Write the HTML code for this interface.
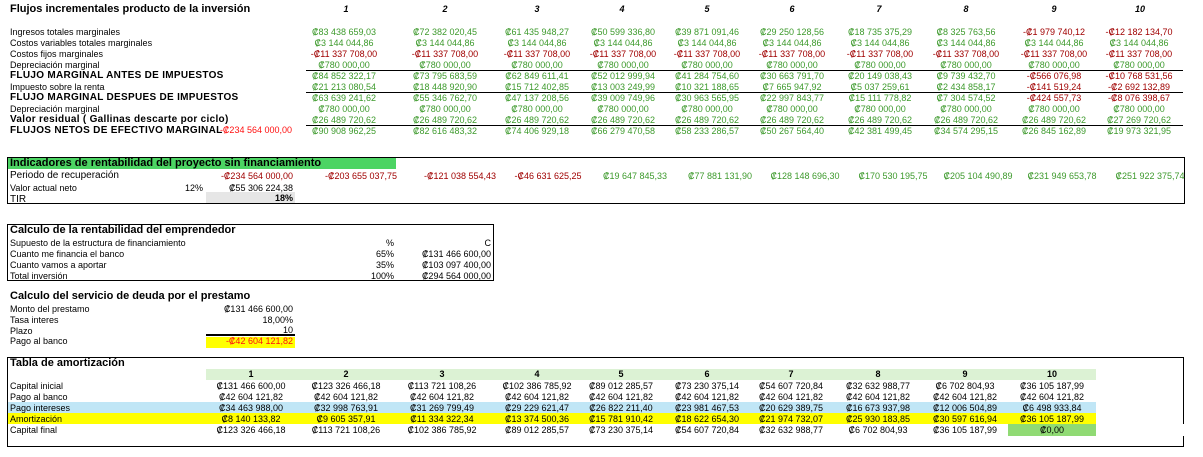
<!DOCTYPE html>
<html><head><meta charset="utf-8"><style>
body{margin:0;width:1203px;height:457px;background:#fff;position:relative;overflow:hidden;font-family:"Liberation Sans","DejaVu Sans",sans-serif;font-size:9px;color:#000}
div{position:absolute;white-space:nowrap;line-height:11px}
.c{width:100px;text-align:center}
.r{text-align:right}
.g{color:#3d9a2c}.d{color:#a00000}.rr{color:#ff1010}
.b{font-weight:bold;font-size:10px;letter-spacing:0.3px}
.h{font-weight:bold;font-size:11px}
.i{font-style:italic;font-weight:bold;font-size:9px}
.ln{height:0;border-top:1.5px solid #000}
.box{border:1.5px solid #000}
</style></head><body>
<div class="h" style="left:10px;top:4px">Flujos incrementales producto de la inversión</div>
<div class="i c" style="left:296px;top:4px">1</div><div class="i c" style="left:395px;top:4px">2</div><div class="i c" style="left:487px;top:4px">3</div><div class="i c" style="left:572px;top:4px">4</div><div class="i c" style="left:657px;top:4px">5</div><div class="i c" style="left:742px;top:4px">6</div><div class="i c" style="left:829px;top:4px">7</div><div class="i c" style="left:916px;top:4px">8</div><div class="i c" style="left:1004px;top:4px">9</div><div class="i c" style="left:1090px;top:4px">10</div>

<div style="left:10px;top:27px">Ingresos totales marginales</div>
<div style="left:10px;top:38px">Costos variables totales marginales</div>
<div style="left:10px;top:49px">Costos fijos marginales</div>
<div style="left:10px;top:60px">Depreciación marginal</div>
<div class="b" style="left:10px;top:70px">FLUJO MARGINAL ANTES DE IMPUESTOS</div>
<div style="left:10px;top:82px">Impuesto sobre la renta</div>
<div class="b" style="left:10px;top:92px">FLUJO MARGINAL DESPUES DE IMPUESTOS</div>
<div style="left:10px;top:104px">Depreciación marginal</div>
<div class="b" style="left:10px;top:114px">Valor residual ( Gallinas descarte por ciclo)</div>
<div class="b" style="left:10px;top:125px">FLUJOS NETOS DE EFECTIVO MARGINAL</div>
<div class="rr r" style="left:192px;width:100px;top:125px">-₡234 564 000,00</div>

<div class="ln" style="left:306px;width:877px;top:70px"></div>
<div class="ln" style="left:306px;width:877px;top:92px"></div>
<div class="ln" style="left:306px;width:877px;top:125px"></div>

<div class="g c" style="left:294px;top:27px">₡83 438 659,03</div><div class="g c" style="left:395px;top:27px">₡72 382 020,45</div><div class="g c" style="left:487px;top:27px">₡61 435 948,27</div><div class="g c" style="left:573px;top:27px">₡50 599 336,80</div><div class="g c" style="left:657px;top:27px">₡39 871 091,46</div><div class="g c" style="left:742px;top:27px">₡29 250 128,56</div><div class="g c" style="left:830px;top:27px">₡18 735 375,29</div><div class="g c" style="left:916px;top:27px">₡8 325 763,56</div><div class="d c" style="left:1004px;top:27px">-₡1 979 740,12</div><div class="d c" style="left:1089px;top:27px">-₡12 182 134,70</div>

<div class="g c" style="left:294px;top:38px">₡3 144 044,86</div><div class="g c" style="left:395px;top:38px">₡3 144 044,86</div><div class="g c" style="left:487px;top:38px">₡3 144 044,86</div><div class="g c" style="left:573px;top:38px">₡3 144 044,86</div><div class="g c" style="left:657px;top:38px">₡3 144 044,86</div><div class="g c" style="left:742px;top:38px">₡3 144 044,86</div><div class="g c" style="left:830px;top:38px">₡3 144 044,86</div><div class="g c" style="left:916px;top:38px">₡3 144 044,86</div><div class="g c" style="left:1004px;top:38px">₡3 144 044,86</div><div class="g c" style="left:1089px;top:38px">₡3 144 044,86</div>

<div class="d c" style="left:294px;top:49px">-₡11 337 708,00</div><div class="d c" style="left:395px;top:49px">-₡11 337 708,00</div><div class="d c" style="left:487px;top:49px">-₡11 337 708,00</div><div class="d c" style="left:573px;top:49px">-₡11 337 708,00</div><div class="d c" style="left:657px;top:49px">-₡11 337 708,00</div><div class="d c" style="left:742px;top:49px">-₡11 337 708,00</div><div class="d c" style="left:830px;top:49px">-₡11 337 708,00</div><div class="d c" style="left:916px;top:49px">-₡11 337 708,00</div><div class="d c" style="left:1004px;top:49px">-₡11 337 708,00</div><div class="d c" style="left:1089px;top:49px">-₡11 337 708,00</div>

<div class="g c" style="left:294px;top:60px">₡780 000,00</div><div class="g c" style="left:395px;top:60px">₡780 000,00</div><div class="g c" style="left:487px;top:60px">₡780 000,00</div><div class="g c" style="left:573px;top:60px">₡780 000,00</div><div class="g c" style="left:657px;top:60px">₡780 000,00</div><div class="g c" style="left:742px;top:60px">₡780 000,00</div><div class="g c" style="left:830px;top:60px">₡780 000,00</div><div class="g c" style="left:916px;top:60px">₡780 000,00</div><div class="g c" style="left:1004px;top:60px">₡780 000,00</div><div class="g c" style="left:1089px;top:60px">₡780 000,00</div>

<div class="g c" style="left:294px;top:71px">₡84 852 322,17</div><div class="g c" style="left:395px;top:71px">₡73 795 683,59</div><div class="g c" style="left:487px;top:71px">₡62 849 611,41</div><div class="g c" style="left:573px;top:71px">₡52 012 999,94</div><div class="g c" style="left:657px;top:71px">₡41 284 754,60</div><div class="g c" style="left:742px;top:71px">₡30 663 791,70</div><div class="g c" style="left:830px;top:71px">₡20 149 038,43</div><div class="g c" style="left:916px;top:71px">₡9 739 432,70</div><div class="d c" style="left:1004px;top:71px">-₡566 076,98</div><div class="d c" style="left:1089px;top:71px">-₡10 768 531,56</div>

<div class="g c" style="left:294px;top:82px">₡21 213 080,54</div><div class="g c" style="left:395px;top:82px">₡18 448 920,90</div><div class="g c" style="left:487px;top:82px">₡15 712 402,85</div><div class="g c" style="left:573px;top:82px">₡13 003 249,99</div><div class="g c" style="left:657px;top:82px">₡10 321 188,65</div><div class="g c" style="left:742px;top:82px">₡7 665 947,92</div><div class="g c" style="left:830px;top:82px">₡5 037 259,61</div><div class="g c" style="left:916px;top:82px">₡2 434 858,17</div><div class="d c" style="left:1004px;top:82px">-₡141 519,24</div><div class="d c" style="left:1089px;top:82px">-₡2 692 132,89</div>

<div class="g c" style="left:294px;top:93px">₡63 639 241,62</div><div class="g c" style="left:395px;top:93px">₡55 346 762,70</div><div class="g c" style="left:487px;top:93px">₡47 137 208,56</div><div class="g c" style="left:573px;top:93px">₡39 009 749,96</div><div class="g c" style="left:657px;top:93px">₡30 963 565,95</div><div class="g c" style="left:742px;top:93px">₡22 997 843,77</div><div class="g c" style="left:830px;top:93px">₡15 111 778,82</div><div class="g c" style="left:916px;top:93px">₡7 304 574,52</div><div class="d c" style="left:1004px;top:93px">-₡424 557,73</div><div class="d c" style="left:1089px;top:93px">-₡8 076 398,67</div>

<div class="g c" style="left:294px;top:104px">₡780 000,00</div><div class="g c" style="left:395px;top:104px">₡780 000,00</div><div class="g c" style="left:487px;top:104px">₡780 000,00</div><div class="g c" style="left:573px;top:104px">₡780 000,00</div><div class="g c" style="left:657px;top:104px">₡780 000,00</div><div class="g c" style="left:742px;top:104px">₡780 000,00</div><div class="g c" style="left:830px;top:104px">₡780 000,00</div><div class="g c" style="left:916px;top:104px">₡780 000,00</div><div class="g c" style="left:1004px;top:104px">₡780 000,00</div><div class="g c" style="left:1089px;top:104px">₡780 000,00</div>

<div class="g c" style="left:294px;top:115px">₡26 489 720,62</div><div class="g c" style="left:395px;top:115px">₡26 489 720,62</div><div class="g c" style="left:487px;top:115px">₡26 489 720,62</div><div class="g c" style="left:573px;top:115px">₡26 489 720,62</div><div class="g c" style="left:657px;top:115px">₡26 489 720,62</div><div class="g c" style="left:742px;top:115px">₡26 489 720,62</div><div class="g c" style="left:830px;top:115px">₡26 489 720,62</div><div class="g c" style="left:916px;top:115px">₡26 489 720,62</div><div class="g c" style="left:1004px;top:115px">₡26 489 720,62</div><div class="g c" style="left:1089px;top:115px">₡27 269 720,62</div>

<div class="g c" style="left:294px;top:126px">₡90 908 962,25</div><div class="g c" style="left:395px;top:126px">₡82 616 483,32</div><div class="g c" style="left:487px;top:126px">₡74 406 929,18</div><div class="g c" style="left:573px;top:126px">₡66 279 470,58</div><div class="g c" style="left:657px;top:126px">₡58 233 286,57</div><div class="g c" style="left:742px;top:126px">₡50 267 564,40</div><div class="g c" style="left:830px;top:126px">₡42 381 499,45</div><div class="g c" style="left:916px;top:126px">₡34 574 295,15</div><div class="g c" style="left:1004px;top:126px">₡26 845 162,89</div><div class="g c" style="left:1089px;top:126px">₡19 973 321,95</div>

<!-- Indicadores -->
<div class="box" style="left:7px;top:157px;width:1176px;height:45px"></div>
<div style="left:8px;top:158px;width:388px;height:11px;background:#4cd463"></div>
<div class="h" style="left:10px;top:158px">Indicadores de rentabilidad del proyecto sin financiamiento</div>
<div style="left:206px;top:192px;width:89px;height:11px;background:#e6e6e6"></div>
<div style="left:10px;top:170px;font-size:10px">Periodo de recuperación</div>
<div style="left:10px;top:183px">Valor actual neto</div>
<div style="left:10px;top:194px;font-size:10px">TIR</div>
<div class="r" style="left:163px;width:40px;top:183px">12%</div>
<div class="r" style="left:193px;width:100px;top:183px">₡55 306 224,38</div>
<div class="r" style="left:193px;width:100px;top:193px;font-weight:bold;font-size:9px">18%</div>
<div class="d r" style="left:193px;width:100px;top:171px">-₡234 564 000,00</div>
<div class="d c" style="left:311px;top:171px">-₡203 655 037,75</div>
<div class="d c" style="left:410px;top:171px">-₡121 038 554,43</div>
<div class="d c" style="left:498px;top:171px">-₡46 631 625,25</div>
<div class="g c" style="left:585px;top:171px">₡19 647 845,33</div>
<div class="g c" style="left:670px;top:171px">₡77 881 131,90</div>
<div class="g c" style="left:755px;top:171px">₡128 148 696,30</div>
<div class="g c" style="left:843px;top:171px">₡170 530 195,75</div>
<div class="g c" style="left:928px;top:171px">₡205 104 490,89</div>
<div class="g c" style="left:1012px;top:171px">₡231 949 653,78</div>
<div class="g c" style="left:1100px;top:171px">₡251 922 375,74</div>

<!-- Calculo rentabilidad -->
<div class="box" style="left:7px;top:224px;width:485px;height:55px"></div>
<div class="h" style="left:10px;top:225px">Calculo de la rentabilidad del emprendedor</div>
<div style="left:10px;top:238px">Supuesto de la estructura de financiamiento</div>
<div style="left:10px;top:249px">Cuanto me financia el banco</div>
<div style="left:10px;top:260px">Cuanto vamos a aportar</div>
<div style="left:10px;top:271px">Total inversión</div>
<div class="r" style="left:344px;width:50px;top:238px">%</div>
<div class="r" style="left:344px;width:50px;top:249px">65%</div>
<div class="r" style="left:344px;width:50px;top:260px">35%</div>
<div class="r" style="left:344px;width:50px;top:271px">100%</div>
<div class="r" style="left:391px;width:100px;top:238px">C</div>
<div class="r" style="left:391px;width:100px;top:249px">₡131 466 600,00</div>
<div class="r" style="left:391px;width:100px;top:260px">₡103 097 400,00</div>
<div class="r" style="left:391px;width:100px;top:271px">₡294 564 000,00</div>

<!-- Servicio deuda -->
<div class="h" style="left:10px;top:291px">Calculo del servicio de deuda por el prestamo</div>
<div style="left:10px;top:304px">Monto del prestamo</div>
<div style="left:10px;top:315px">Tasa interes</div>
<div style="left:10px;top:326px">Plazo</div>
<div style="left:10px;top:336px">Pago al banco</div>
<div class="r" style="left:193px;width:100px;top:304px">₡131 466 600,00</div>
<div class="r" style="left:193px;width:100px;top:315px">18,00%</div>
<div class="r" style="left:193px;width:100px;top:325px">10</div>
<div class="ln" style="left:206px;width:89px;top:334px;border-top-width:2px"></div>
<div style="left:206px;top:337px;width:89px;height:11px;background:#ffff00"></div>
<div class="rr r" style="left:193px;width:100px;top:336px">-₡42 604 121,82</div>

<!-- Tabla -->
<div class="box" style="left:7px;top:357px;width:1175px;height:88px"></div>
<div style="left:1181px;top:424px;width:4px;height:12px;background:#fff"></div>
<div class="h" style="left:10px;top:358px">Tabla de amortización</div>
<div style="left:206px;top:369px;width:890px;height:11px;background:#dcf2d4"></div>
<div style="left:8px;top:402px;width:1088px;height:11px;background:#c0e6f6"></div>
<div style="left:8px;top:413px;width:1088px;height:11px;background:#ffff00"></div>
<div style="left:1008px;top:424px;width:88px;height:12px;background:#90da74"></div>
<div style="left:10px;top:381px">Capital inicial</div>
<div style="left:10px;top:392px">Pago al banco</div>
<div style="left:10px;top:403px">Pago intereses</div>
<div style="left:10px;top:414px">Amortización</div>
<div style="left:10px;top:425px">Capital final</div>

<div class="c" style="left:201px;top:369px;font-weight:bold">1</div><div class="c" style="left:296px;top:369px;font-weight:bold">2</div><div class="c" style="left:392px;top:369px;font-weight:bold">3</div><div class="c" style="left:487px;top:369px;font-weight:bold">4</div><div class="c" style="left:571px;top:369px;font-weight:bold">5</div><div class="c" style="left:657px;top:369px;font-weight:bold">6</div><div class="c" style="left:741px;top:369px;font-weight:bold">7</div><div class="c" style="left:828px;top:369px;font-weight:bold">8</div><div class="c" style="left:915px;top:369px;font-weight:bold">9</div><div class="c" style="left:1002px;top:369px;font-weight:bold">10</div>

<div class="c" style="left:201px;top:381px">₡131 466 600,00</div><div class="c" style="left:296px;top:381px">₡123 326 466,18</div><div class="c" style="left:392px;top:381px">₡113 721 108,26</div><div class="c" style="left:487px;top:381px">₡102 386 785,92</div><div class="c" style="left:571px;top:381px">₡89 012 285,57</div><div class="c" style="left:657px;top:381px">₡73 230 375,14</div><div class="c" style="left:741px;top:381px">₡54 607 720,84</div><div class="c" style="left:828px;top:381px">₡32 632 988,77</div><div class="c" style="left:915px;top:381px">₡6 702 804,93</div><div class="c" style="left:1002px;top:381px">₡36 105 187,99</div>

<div class="c" style="left:201px;top:392px">₡42 604 121,82</div><div class="c" style="left:296px;top:392px">₡42 604 121,82</div><div class="c" style="left:392px;top:392px">₡42 604 121,82</div><div class="c" style="left:487px;top:392px">₡42 604 121,82</div><div class="c" style="left:571px;top:392px">₡42 604 121,82</div><div class="c" style="left:657px;top:392px">₡42 604 121,82</div><div class="c" style="left:741px;top:392px">₡42 604 121,82</div><div class="c" style="left:828px;top:392px">₡42 604 121,82</div><div class="c" style="left:915px;top:392px">₡42 604 121,82</div><div class="c" style="left:1002px;top:392px">₡42 604 121,82</div>

<div class="c" style="left:201px;top:403px">₡34 463 988,00</div><div class="c" style="left:296px;top:403px">₡32 998 763,91</div><div class="c" style="left:392px;top:403px">₡31 269 799,49</div><div class="c" style="left:487px;top:403px">₡29 229 621,47</div><div class="c" style="left:571px;top:403px">₡26 822 211,40</div><div class="c" style="left:657px;top:403px">₡23 981 467,53</div><div class="c" style="left:741px;top:403px">₡20 629 389,75</div><div class="c" style="left:828px;top:403px">₡16 673 937,98</div><div class="c" style="left:915px;top:403px">₡12 006 504,89</div><div class="c" style="left:1002px;top:403px">₡6 498 933,84</div>

<div class="c" style="left:201px;top:414px">₡8 140 133,82</div><div class="c" style="left:296px;top:414px">₡9 605 357,91</div><div class="c" style="left:392px;top:414px">₡11 334 322,34</div><div class="c" style="left:487px;top:414px">₡13 374 500,36</div><div class="c" style="left:571px;top:414px">₡15 781 910,42</div><div class="c" style="left:657px;top:414px">₡18 622 654,30</div><div class="c" style="left:741px;top:414px">₡21 974 732,07</div><div class="c" style="left:828px;top:414px">₡25 930 183,85</div><div class="c" style="left:915px;top:414px">₡30 597 616,94</div><div class="c" style="left:1002px;top:414px">₡36 105 187,99</div>

<div class="c" style="left:201px;top:425px">₡123 326 466,18</div><div class="c" style="left:296px;top:425px">₡113 721 108,26</div><div class="c" style="left:392px;top:425px">₡102 386 785,92</div><div class="c" style="left:487px;top:425px">₡89 012 285,57</div><div class="c" style="left:571px;top:425px">₡73 230 375,14</div><div class="c" style="left:657px;top:425px">₡54 607 720,84</div><div class="c" style="left:741px;top:425px">₡32 632 988,77</div><div class="c" style="left:828px;top:425px">₡6 702 804,93</div><div class="c" style="left:915px;top:425px">₡36 105 187,99</div><div class="c" style="left:1002px;top:425px">₡0,00</div>
</body></html>
